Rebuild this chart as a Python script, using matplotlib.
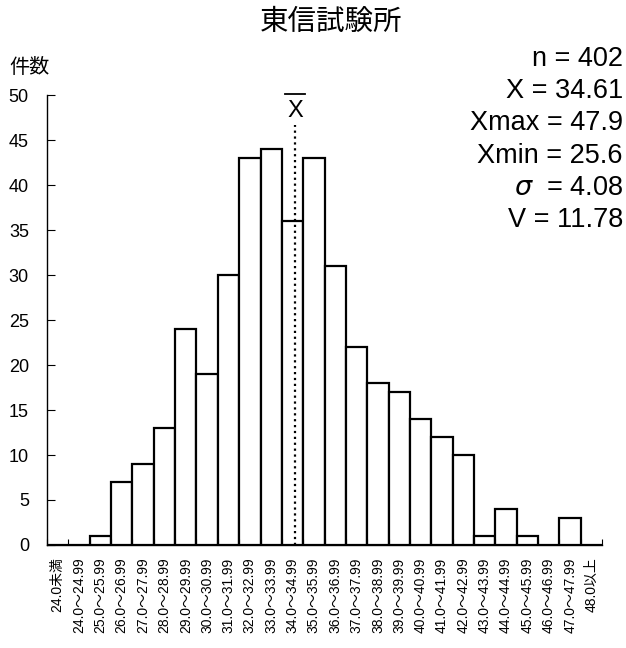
import numpy as np
import matplotlib
matplotlib.use('Agg')
import matplotlib.pyplot as plt

plt.rcParams['font.family'] = ['Liberation Sans', 'Noto Sans CJK JP', 'DejaVu Sans']

# class labels and counts
labels = ['24.0未満'] + [f'{v}.0～{v}.99' for v in range(24, 48)] + ['48.0以上']
counts = [0, 0, 1, 7, 9, 13, 24, 19, 30, 43, 44, 36, 43, 31, 22, 18, 17, 14,
          12, 10, 1, 4, 1, 0, 3, 0]

stat_lines = ['n = 402', 'X = 34.61', 'Xmax = 47.9', 'Xmin = 25.6',
              '$\\sigma$  = 4.08', 'V = 11.78']
mean_val = 34.61

fig = plt.figure(figsize=(6.26, 6.48), dpi=100)
ax = fig.add_axes([0.075, 0.159, 0.887, 0.694])

x = np.arange(len(labels))
ax.bar(x, counts, width=1.0, color='white', edgecolor='black', linewidth=1.6)

ax.set_xlim(-0.5, len(labels) - 0.5)
ax.set_ylim(0, 50)
ax.set_yticks(range(0, 51, 5))
ax.tick_params(axis='y', direction='in', length=6, labelsize=13, pad=13)

# class boundary ticks, labels placed under bar centers
ax.set_xticks(np.arange(-0.5, len(labels), 1.0))
ax.set_xticklabels([])
ax.tick_params(axis='x', direction='in', length=4)
for i, lab in enumerate(labels):
    ax.text(i, -1.4, lab, rotation=90, ha='center', va='top', fontsize=10)

ax.spines['top'].set_visible(False)
ax.spines['right'].set_visible(False)
ax.spines['left'].set_linewidth(1.0)
ax.spines['bottom'].set_linewidth(1.0)

# mean line
mx = mean_val - 23.5
ax.plot([mx, mx], [0, 46.7], color='black', linestyle=':', linewidth=1.6)
ax.text(mx, 47.0, 'X', ha='center', va='bottom', fontsize=17)
ax.plot([mx - 0.45, mx + 0.45], [50.1, 50.1], color='black', linewidth=1.3,
        clip_on=False)

fig.text(0.529, 0.964, '東信試験所', ha='center', va='center', fontsize=20.5)
fig.text(0.015, 0.8966, '件数', ha='left', va='center', fontsize=14.5)

for k, s in enumerate(stat_lines):
    fig.text(0.995, 0.909 - k * 0.0497, s, ha='right', va='center', fontsize=19.5)

fig.savefig('out.png', dpi=100)
